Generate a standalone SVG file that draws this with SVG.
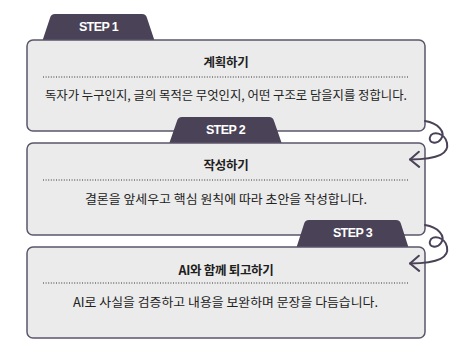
<svg xmlns="http://www.w3.org/2000/svg" width="469" height="346" viewBox="0 0 469 346">
<defs>
<style>
.box{fill:#ebebeb;stroke:#5c566b;stroke-width:1.5}
.tab{fill:#4a4257}
.tabt{font-family:"Liberation Sans",Arial,sans-serif;font-weight:bold;font-size:12.5px;fill:#fff;text-anchor:middle;letter-spacing:-0.6px}
.title{font-family:"Noto Sans CJK KR","Noto Sans",sans-serif;font-weight:bold;font-size:12.5px;fill:#1e1e1e;text-anchor:middle;letter-spacing:-0.3px}
.body{font-family:"Noto Sans CJK KR","Noto Sans",sans-serif;font-size:12.5px;fill:#222}
.dot{stroke:#333;stroke-width:1;stroke-dasharray:1 1.6;fill:none}
.conn{fill:none;stroke:#4a4257;stroke-width:2;stroke-linecap:round;stroke-linejoin:round}
</style>
<marker id="arr" viewBox="0 0 12 18" refX="11" refY="9" markerWidth="12" markerHeight="18" markerUnits="userSpaceOnUse" orient="auto">
<polyline points="2,1.5 11,9 2,16.5" fill="none" stroke="#4a4257" stroke-width="2" stroke-linecap="round" stroke-linejoin="round"/>
</marker>
</defs>
<rect width="469" height="346" fill="#fff"/>
<g id="step1">
<path class="tab" d="M42,42 L50,18 Q51,14 55,14 L142,14 Q146,14 147,18 L155,42 Z"/>
<text class="tabt" x="98.5" y="31">STEP 1</text>
<rect class="box" x="27" y="40" width="398" height="91" rx="6"/>
<text class="title" x="226" y="67">계획하기</text>
<line class="dot" x1="43" y1="77" x2="409" y2="77"/>
<text class="body" x="45" y="100" textLength="362" lengthAdjust="spacingAndGlyphs">독자가 누구인지, 글의 목적은 무엇인지, 어떤 구조로 담을지를 정합니다.</text>
</g>
<g id="step2">
<path class="tab" d="M169,144 L177,121 Q178,117 182,117 L269,117 Q273,117 274,121 L282,144 Z"/>
<text class="tabt" x="225.5" y="134">STEP 2</text>
<rect class="box" x="27" y="143" width="398" height="92" rx="6"/>
<text class="title" x="226" y="170">작성하기</text>
<line class="dot" x1="43" y1="180" x2="409" y2="180"/>
<text class="body" x="85" y="204" textLength="282" lengthAdjust="spacingAndGlyphs">결론을 앞세우고 핵심 원칙에 따라 초안을 작성합니다.</text>
</g>
<g id="step3">
<path class="tab" d="M296,249 L304,224 Q305,220 309,220 L396,220 Q400,220 401,224 L409,249 Z"/>
<text class="tabt" x="352.5" y="237">STEP 3</text>
<rect class="box" x="27" y="247" width="398" height="91" rx="6"/>
<text class="title" x="226" y="275">AI와 함께 퇴고하기</text>
<line class="dot" x1="43" y1="283" x2="409" y2="283"/>
<text class="body" x="73" y="307" textLength="305" lengthAdjust="spacingAndGlyphs">AI로 사실을 검증하고 내용을 보완하며 문장을 다듬습니다.</text>
</g>
<g id="connectors">
<path class="conn" marker-end="url(#arr)" d="M425,121 C438,123 446,132 441,139 C437,145 428,143 430,137 C432,130 445,133 447,143 C449,153 440,159 410,159.5"/>
<path class="conn" marker-end="url(#arr)" d="M425,225 C438,227 446,236 441,243 C437,249 428,247 430,241 C432,234 445,237 447,247 C449,257 440,263 410,263.5"/>
</g>
</svg>
